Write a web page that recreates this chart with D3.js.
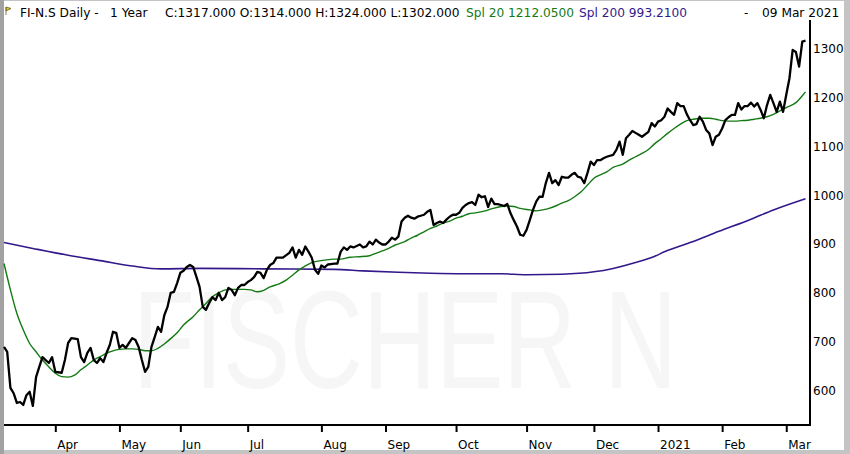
<!DOCTYPE html>
<html>
<head>
<meta charset="utf-8">
<script src="https://cdn.jsdelivr.net/npm/d3@7"></script>
<style>
  body { margin: 0; background: #fff; }
  svg text { font-family: "DejaVu Sans", sans-serif; }
</style>
</head>
<body>
<svg id="chart"></svg>
<script>
// month ticks, as trading-day index from the first bar
const monthLabels = ['Apr', 'May', 'Jun', 'Jul', 'Aug', 'Sep', 'Oct', 'Nov', 'Dec', '2021', 'Feb', 'Mar'];
const monthDays = [16, 36, 55, 76, 99, 119, 141, 163, 184, 204, 224, 244];
const priceTicks = [600, 700, 800, 900, 1000, 1100, 1200, 1300];

// daily close, [trading day, close]
const closeSeries = [
  [0,689],[1,679],[2,605],[3,594],[4,574],[5,576],[6,570],[7,590],[8,597],[9,568],
  [10,627],[11,648],[12,668],[13,662],[14,656],[15,668],[16,638],[18,636],[19,662],[20,697],
  [21,707],[23,705],[24,668],[25,658],[26,677],[27,687],[28,662],[29,656],[30,666],[31,658],
  [32,677],[33,693],[34,720],[35,718],[36,687],[37,693],[38,687],[39,697],[40,707],[41,703],
  [42,689],[43,662],[44,638],[45,648],[46,689],[47,709],[48,730],[49,720],[50,754],[51,771],
  [52,800],[53,802],[54,820],[55,841],[56,845],[57,853],[58,857],[59,853],[60,833],[61,812],
  [62,771],[63,765],[64,779],[65,791],[66,785],[67,800],[68,785],[69,791],[70,810],[71,806],
  [72,795],[73,810],[74,816],[75,816],[76,822],[77,826],[78,832],[79,843],[80,841],[81,830],
  [82,847],[83,857],[84,861],[85,872],[86,872],[87,872],[89,882],[90,893],[91,872],[92,888],
  [93,878],[94,895],[95,884],[96,872],[97,847],[98,839],[99,856],[100,852],[101,858],[102,859],
  [103,860],[104,860],[105,884],[106,893],[107,888],[108,895],[109,893],[111,899],[112,893],[113,895],
  [114,905],[115,899],[116,909],[117,903],[118,899],[119,899],[120,905],[121,913],[122,909],[123,915],
  [124,946],[125,954],[126,958],[127,954],[128,952],[129,956],[130,958],[131,960],[132,966],[133,970],
  [134,939],[135,943],[136,946],[137,943],[138,950],[139,956],[140,960],[141,960],[142,964],[143,974],
  [144,980],[145,984],[146,986],[147,980],[148,1001],[149,996],[150,998],[151,976],[152,993],[153,982],
  [154,982],[155,980],[156,978],[157,982],[158,963],[159,949],[160,936],[161,919],[162,917],[163,929],
  [164,949],[165,970],[166,987],[167,997],[168,997],[169,1025],[170,1046],[171,1025],[172,1031],[173,1021],
  [174,1038],[175,1036],[176,1036],[177,1042],[178,1046],[179,1038],[180,1036],[181,1025],[182,1046],[183,1069],
  [184,1062],[185,1072],[186,1072],[187,1076],[188,1079],[190,1083],[191,1093],[192,1110],[193,1083],[194,1117],
  [195,1124],[196,1132],[197,1128],[198,1124],[199,1120],[201,1130],[202,1148],[203,1141],[204,1151],[205,1154],
  [206,1161],[207,1178],[208,1171],[209,1165],[210,1189],[211,1183],[212,1183],[213,1166],[214,1154],[215,1144],
  [216,1146],[217,1161],[218,1151],[219,1134],[220,1127],[221,1103],[222,1120],[223,1124],[224,1137],[225,1154],
  [226,1160],[227,1165],[228,1165],[229,1189],[230,1176],[231,1183],[232,1183],[233,1190],[234,1182],[235,1189],
  [236,1175],[237,1158],[238,1185],[239,1206],[240,1189],[241,1171],[242,1192],[243,1171],[244,1206],[245,1240],
  [246,1298],[247,1294],[248,1264],[249,1315],[250,1317]
];

// Spl 20 (green)
const spl20Series = [
  [0,860],[2,806],[4,758],[6,724],[8,696],[10,679],[12,662],[14,648],[16,635],[18,628],
  [20,627],[22,631],[24,642],[26,652],[28,662],[30,669],[32,676],[34,681],[36,684],[38,685],
  [40,685],[42,684],[44,681],[46,681],[48,686],[50,695],[52,706],[54,718],[56,734],[59,751],
  [61,765],[63,778],[65,792],[67,800],[69,806],[71,807],[73,807],[75,807],[77,806],[79,802],
  [81,805],[83,812],[86,819],[88,826],[90,836],[92,847],[94,855],[96,862],[98,865],[100,867],
  [103,869],[105,869],[108,873],[111,874],[114,876],[116,881],[118,886],[120,891],[122,898],[125,905],
  [127,912],[129,918],[131,925],[133,932],[135,937],[137,943],[139,947],[141,953],[143,957],[145,962],
  [147,964],[150,968],[152,972],[155,977],[157,978],[159,977],[161,973],[164,970],[166,968],[168,970],
  [170,973],[172,978],[174,984],[176,989],[178,997],[180,1007],[182,1021],[184,1035],[186,1042],[188,1048],
  [190,1057],[193,1064],[195,1072],[197,1079],[199,1086],[201,1094],[203,1106],[205,1116],[207,1127],[209,1137],
  [211,1146],[213,1153],[215,1156],[218,1158],[220,1158],[222,1156],[224,1153],[226,1152],[228,1152],[230,1153],
  [232,1154],[234,1156],[236,1158],[238,1161],[240,1166],[242,1173],[244,1180],[247,1190],[249,1204],[250,1212]
];

// Spl 200 (purple)
const spl200Series = [
  [0,903],[9,891],[20,877],[30,866],[40,855],[49,849],[61,850],[81,849],[103,848],[112,845],
  [123,842],[133,840],[143,839],[155,839],[163,837],[174,838],[184,843],[190,850],[197,862],[203,875],
  [206,884],[214,903],[223,926],[233,951],[240,970],[250,993]
];

const W = 850, H = 454;
const plot = { l: 4, r: 810, t: 20, b: 425 };

const svg = d3.select('svg#chart')
    .attr('width', W)
    .attr('height', H);

// window border
svg.append('rect').attr('x', 0).attr('y', 0).attr('width', W).attr('height', H).attr('fill', '#c4c4c4');
svg.append('rect').attr('x', 4).attr('y', 1).attr('width', 840).attr('height', 449).attr('fill', '#fff');
svg.append('rect').attr('x', 0).attr('y', 0).attr('width', 4).attr('height', H).attr('fill', '#a2a2a2');

const x = d3.scaleLinear().domain([0, 250]).range([4, 805.5]);
const y = d3.scaleLinear().domain([600, 1300]).range([390.3, 49]);

// watermark (thin, very light)
svg.append('text')
    .attr('transform', 'translate(133, 388) scale(1, 1.37)')
    .style('font-family', '"Liberation Sans", sans-serif')
    .style('font-size', '101px')
    .attr('fill', '#f6f6f6')
    .text('FISCHER N');

const lineGen = d3.line()
    .x(d => x(d[0]))
    .y(d => y(d[1]));

const smoothGen = d3.line()
    .x(d => x(d[0]))
    .y(d => y(d[1]))
    .curve(d3.curveMonotoneX);

svg.append('path')
    .datum(spl200Series)
    .attr('d', smoothGen)
    .attr('fill', 'none')
    .attr('stroke', '#33188c')
    .attr('stroke-width', 1.6);

svg.append('path')
    .datum(spl20Series)
    .attr('d', smoothGen)
    .attr('fill', 'none')
    .attr('stroke', '#137a13')
    .attr('stroke-width', 1.4);

svg.append('path')
    .datum(closeSeries)
    .attr('d', lineGen)
    .attr('fill', 'none')
    .attr('stroke', '#000')
    .attr('stroke-width', 2.3)
    .attr('stroke-linejoin', 'round');

// frame
svg.append('line').attr('x1', plot.r).attr('x2', plot.r).attr('y1', plot.t).attr('y2', plot.b + 1)
    .attr('stroke', '#000').attr('stroke-width', 2);
svg.append('line').attr('x1', plot.l).attr('x2', plot.r + 1).attr('y1', plot.b).attr('y2', plot.b)
    .attr('stroke', '#000').attr('stroke-width', 2);

// bottom axis: month ticks
const xAxis = d3.axisBottom(x)
    .tickValues(monthDays)
    .tickFormat((d, i) => monthLabels[i])
    .tickSize(6)
    .tickPadding(8);

const xg = svg.append('g')
    .attr('transform', `translate(0, ${plot.b + 1})`)
    .call(xAxis);
xg.select('.domain').remove();
xg.selectAll('.tick line').attr('stroke', '#000').attr('stroke-width', 2);
xg.selectAll('.tick text')
    .attr('text-anchor', 'start')
    .attr('dx', 1.5)
    .attr('fill', '#000')
    .style('font-size', '12px');

// right axis: prices
const yAxis = d3.axisRight(y)
    .tickValues(priceTicks)
    .tickFormat(d3.format('d'))
    .tickSize(0)
    .tickPadding(3);

const yg = svg.append('g')
    .attr('transform', `translate(${plot.r}, 0)`)
    .call(yAxis);
yg.select('.domain').remove();
yg.selectAll('.tick text')
    .attr('fill', '#000')
    .style('font-size', '12px');

// header
svg.append('path')
    .attr('d', 'M6,7 L6,15 M6,7 L11,8.5 L6,11 Z')
    .attr('fill', '#e6d21c')
    .attr('stroke', '#6b6020')
    .attr('stroke-width', 0.8);

const header = [
  { t: 'FI-N.S Daily -', x: 20, c: '#000' },
  { t: '1 Year', x: 110, c: '#000' },
  { t: 'C:1317.000 O:1314.000 H:1324.000 L:1302.000', x: 165, c: '#000' },
  { t: 'Spl 20 1212.0500', x: 466, c: '#137a13' },
  { t: 'Spl 200 993.2100', x: 579, c: '#33188c' },
  { t: '-', x: 744, c: '#000' },
  { t: '09 Mar 2021', x: 762, c: '#000' }
];

svg.append('g')
    .selectAll('text')
    .data(header)
    .join('text')
    .attr('x', d => d.x)
    .attr('y', 17)
    .attr('fill', d => d.c)
    .style('font-size', '12.2px')
    .text(d => d.t);
</script>
</body>
</html>
